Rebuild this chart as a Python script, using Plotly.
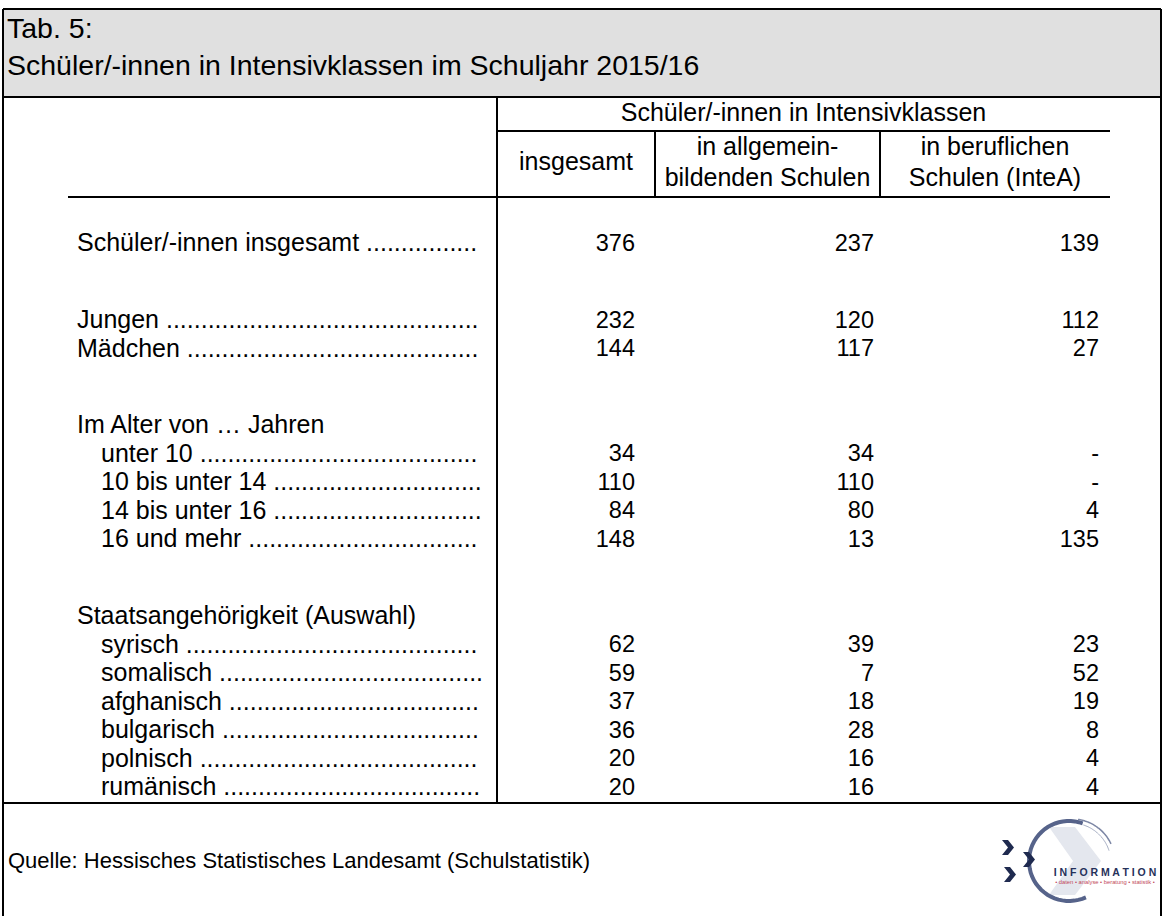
import numpy as np
import plotly.graph_objects as go

# ---------------- data ----------------
title_lines = ["Tab. 5:", "Schüler/-innen in Intensivklassen im Schuljahr 2015/16"]
group_header = "Schüler/-innen in Intensivklassen"
col_headers = [["insgesamt"], ["in allgemein-", "bildenden Schulen"], ["in beruflichen", "Schulen (InteA)"]]

row_labels = ["Schüler/-innen insgesamt", "Jungen", "Mädchen",
              "Im Alter von … Jahren", "unter 10", "10 bis unter 14", "14 bis unter 16", "16 und mehr",
              "Staatsangehörigkeit (Auswahl)", "syrisch", "somalisch", "afghanisch", "bulgarisch",
              "polnisch", "rumänisch"]
row_indent = [0, 0, 0, 0, 1, 1, 1, 1, 0, 1, 1, 1, 1, 1, 1]
row_is_section = [False, False, False, True, False, False, False, False, True,
                  False, False, False, False, False, False]
row_gap_before = [False, True, False, True, False, False, False, False, True,
                  False, False, False, False, False, False]

insgesamt = [376, 232, 144, None, 34, 110, 84, 148, None, 62, 59, 37, 36, 20, 20]
allgemein = [237, 120, 117, None, 34, 110, 80, 13, None, 39, 7, 18, 28, 16, 16]
beruflich = [139, 112, 27, None, 0, 0, 4, 135, None, 23, 52, 19, 8, 4, 4]

source_text = "Quelle: Hessisches Statistisches Landesamt (Schulstatistik)"
logo_word = "I N F O R M A T I O N"
logo_tag = "• daten • analyse • beratung • statistik •"

# ---------------- layout constants ----------------
W, H = 1163, 916
FONT = "Arial, Liberation Sans, sans-serif"
BODY = 25
NUM = 23.5
TITLE = 28.5
SRC = 22

first_row_y = 245
row_h = 28.5
gap_h = 76.8

label_x = [77, 101]
leader_end = 484
col_right = [635, 874, 1099]
col_center_x = [576, 767.5, 995]

# Arial widths (per 1000 em)
AW = {' ': 278, '/': 278, '-': 333, '(': 333, ')': 333, '.': 278, '…': 1000,
      'S': 667, 'J': 500, 'M': 833, 'I': 278, 'A': 667,
      'i': 222, 'j': 222, 'l': 222, 'f': 278, 't': 278, 'r': 333, 'c': 500, 'k': 500,
      's': 500, 'v': 500, 'y': 500, 'z': 500, 'm': 833, 'w': 722}


def text_width(s, size):
    return sum(AW.get(ch, 556) for ch in s) * size / 1000.0


def with_leader(label, x0):
    base = label + " "
    room = leader_end - x0 - text_width(base, BODY)
    n = int(room // (0.278 * BODY))
    return base + "." * max(n, 0)


# row y positions
ys = []
y = first_row_y
for i, gap in enumerate(row_gap_before):
    if i > 0:
        y += gap_h if gap else row_h
    ys.append(y)

fig = go.Figure()

# labels
lab_x, lab_t = [], []
for lab, ind, sec in zip(row_labels, row_indent, row_is_section):
    x0 = label_x[ind]
    lab_x.append(x0)
    lab_t.append(lab if sec else with_leader(lab, x0))
fig.add_trace(go.Scatter(x=lab_x, y=ys, mode="text", text=lab_t, textposition="middle right",
                         textfont=dict(family=FONT, size=BODY, color="black"),
                         hoverinfo="skip", showlegend=False))


def fmt(v):
    if v is None:
        return ""
    return "-" if v == 0 else str(v)


for xr, vals in zip(col_right, [insgesamt, allgemein, beruflich]):
    fig.add_trace(go.Scatter(x=[xr] * len(vals), y=ys, mode="text",
                             text=[fmt(v) for v in vals], textposition="middle left",
                             textfont=dict(family=FONT, size=NUM, color="black"),
                             hoverinfo="skip", showlegend=False))

# headers
hx, hy, ht = [803.5], [115], [group_header]
for cx, lines in zip(col_center_x, col_headers):
    if len(lines) == 1:
        hx.append(cx); hy.append(164); ht.append(lines[0])
    else:
        hx += [cx, cx]; hy += [149, 180]; ht += lines
fig.add_trace(go.Scatter(x=hx, y=hy, mode="text", text=ht, textposition="middle center",
                         textfont=dict(family=FONT, size=BODY, color="black"),
                         hoverinfo="skip", showlegend=False))

# title (one text block, two lines)
fig.add_trace(go.Scatter(x=[7], y=[49], mode="text", text=["<br>".join(title_lines)],
                         textposition="middle right",
                         textfont=dict(family=FONT, size=TITLE, color="black"),
                         hoverinfo="skip", showlegend=False))

# source
fig.add_trace(go.Scatter(x=[8], y=[862], mode="text", text=[source_text],
                         textposition="middle right",
                         textfont=dict(family=FONT, size=SRC, color="black"),
                         hoverinfo="skip", showlegend=False))

# logo texts
fig.add_trace(go.Scatter(x=[1105, 1105], y=[873, 883], mode="text", text=[logo_word, logo_tag],
                         textposition="middle center",
                         textfont=dict(family=FONT, size=[10.5, 5.8], color=["#26315a", "#c2485a"],
                                       weight=[700, 400]),
                         hoverinfo="skip", showlegend=False))

shapes = []
# gray title band
shapes.append(dict(type="rect", x0=3, x1=1161, y0=9, y1=97, fillcolor="#e0e0e0",
                   line=dict(width=0), layer="below"))


def hline(y, x0, x1, w=2):
    shapes.append(dict(type="line", x0=x0, x1=x1, y0=y, y1=y, line=dict(color="black", width=w)))


def vline(x, y0, y1, w=2):
    shapes.append(dict(type="line", x0=x, x1=x, y0=y0, y1=y1, line=dict(color="black", width=w)))


hline(9, 3, 1161)
vline(3, 9, 916)
vline(1161, 9, 916)
hline(97, 3, 1161)
vline(497, 97, 803)
hline(131, 497, 1110)
vline(655, 131, 197)
vline(880, 131, 197)
hline(197, 68, 1110)
hline(803, 3, 1161)

# logo graphics
cx, cy, r = 1069, 861, 40


def arc_path(cx, cy, r, a0, a1, n=40):
    a = np.radians(np.linspace(a0, a1, n))
    px = cx + r * np.cos(a)
    py = cy - r * np.sin(a)
    return "M " + " L ".join(f"{x:.1f},{y:.1f}" for x, y in zip(px, py))


# faded inner chevron
shapes.append(dict(type="path", path=f"M {cx-20},{cy-34} L {cx+6},{cy-34} L {cx+32},{cy} "
                                       f"L {cx+6},{cy+34} L {cx-20},{cy+34} L {cx+4},{cy} Z",
                   fillcolor="#e4e7ee", line=dict(width=0), layer="below"))
shapes.append(dict(type="path", path=arc_path(cx, cy, r, 70, 295), line=dict(color="#56638a", width=4)))
shapes.append(dict(type="path", path=arc_path(cx + 3, cy + 1, r + 3, 25, 82), line=dict(color="#7d87a5", width=1.5)))
shapes.append(dict(type="path", path=arc_path(cx + 2, cy + 2, r, 18, 72), line=dict(color="#a3abc1", width=1)))


def chevron(x, y, s=1.0):
    return (f"M {x},{y} L {x+6*s},{y} L {x+12*s},{y+7.5*s} L {x+6*s},{y+15*s} L {x},{y+15*s} "
            f"L {x+6*s},{y+7.5*s} Z")


for (px, py) in [(1002, 840), (1023, 852), (1004, 867)]:
    shapes.append(dict(type="path", path=chevron(px, py), fillcolor="#1f2a4f", line=dict(width=0)))

for s in shapes:
    s.setdefault("xref", "x")
    s.setdefault("yref", "y")

fig.update_layout(
    width=W, height=H, margin=dict(l=0, r=0, t=0, b=0),
    paper_bgcolor="white", plot_bgcolor="white",
    xaxis=dict(range=[0, W], visible=False, fixedrange=True),
    yaxis=dict(range=[H, 0], visible=False, fixedrange=True),
    shapes=shapes, showlegend=False,
)

fig.write_html("out.html", config={"displayModeBar": False},
               post_script="document.body.style.margin='0';document.body.style.overflow='hidden';")
